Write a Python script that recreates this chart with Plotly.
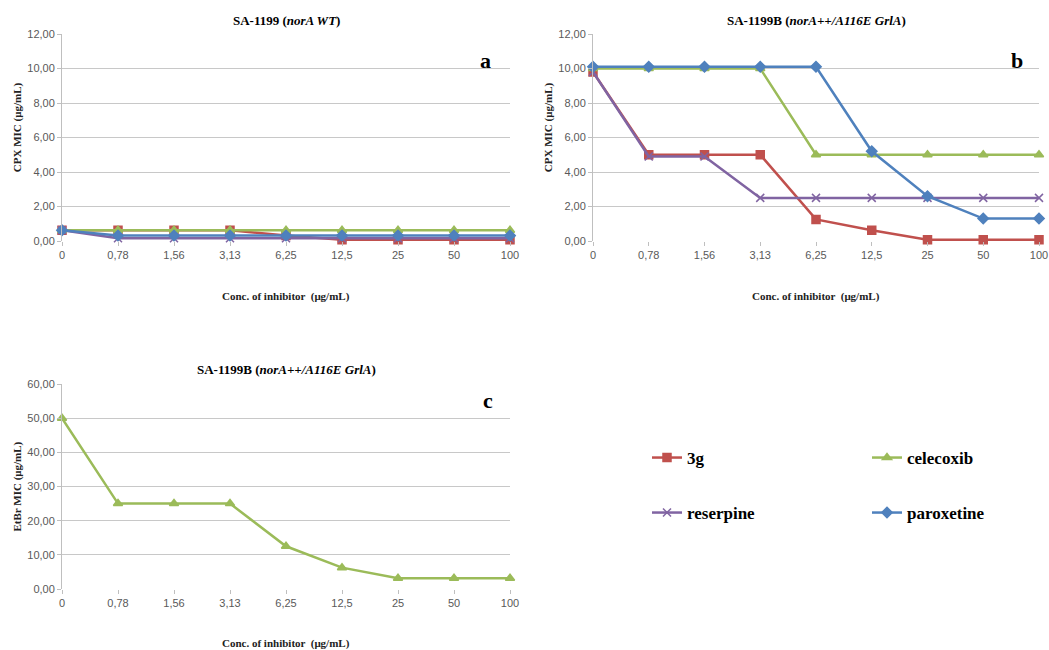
import plotly.graph_objects as go

conc_labels = ["0", "0,78", "1,56", "3,13", "6,25", "12,5", "25", "50", "100"]
series_names = ["3g", "celecoxib", "reserpine", "paroxetine"]

a_3g = [0.625, 0.625, 0.625, 0.625, 0.3125, 0.078, 0.078, 0.078, 0.078]
a_celecoxib = [0.625, 0.625, 0.625, 0.625, 0.625, 0.625, 0.625, 0.625, 0.625]
a_reserpine = [0.625, 0.156, 0.156, 0.156, 0.156, 0.156, 0.156, 0.156, 0.156]
a_paroxetine = [0.625, 0.3125, 0.3125, 0.3125, 0.3125, 0.3125, 0.3125, 0.3125, 0.3125]

b_3g = [9.8, 5.0, 5.0, 5.0, 1.25, 0.625, 0.078, 0.078, 0.078]
b_celecoxib = [10.0, 10.0, 10.0, 10.0, 5.0, 5.0, 5.0, 5.0, 5.0]
b_reserpine = [9.8, 4.9, 4.9, 2.5, 2.5, 2.5, 2.5, 2.5, 2.5]
b_paroxetine = [10.1, 10.1, 10.1, 10.1, 10.1, 5.2, 2.6, 1.3, 1.3]

c_celecoxib = [50, 25, 25, 25, 12.5, 6.25, 3.125, 3.125, 3.125]

cpx_ticks = [0, 2, 4, 6, 8, 10, 12]
cpx_ticktext = ["0,00", "2,00", "4,00", "6,00", "8,00", "10,00", "12,00"]
etbr_ticks = [0, 10, 20, 30, 40, 50, 60]
etbr_ticktext = ["0,00", "10,00", "20,00", "30,00", "40,00", "50,00", "60,00"]

colors = {"3g": "#C0504D", "celecoxib": "#9BBB59", "reserpine": "#8064A2", "paroxetine": "#4F81BD"}
symbols = {"3g": "square", "celecoxib": "triangle-up", "reserpine": "x-thin", "paroxetine": "diamond"}
sizes = {"3g": 8, "celecoxib": 8, "reserpine": 8, "paroxetine": 8}
legend_of = {"3g": "legend", "celecoxib": "legend", "reserpine": "legend2", "paroxetine": "legend2"}

xs = list(range(len(conc_labels)))

W, H = 1049, 650


def px(x):
    return x / W


def py(y):
    return 1 - y / H


fig = go.Figure()


def add(name, y, xa, ya, show):
    c = colors[name]
    fig.add_trace(go.Scatter(
        x=xs, y=y, name=name, mode="lines+markers",
        xaxis=xa, yaxis=ya, cliponaxis=False,
        line=dict(color=c, width=2.5),
        marker=dict(symbol=symbols[name], size=sizes[name], color=c,
                    line=dict(color=c, width=1.5)),
        showlegend=show, legend=legend_of[name],
    ))


for n, y in zip(series_names, [a_3g, a_celecoxib, a_reserpine, a_paroxetine]):
    add(n, y, "x", "y", False)
for n, y in zip(series_names, [b_3g, b_celecoxib, b_reserpine, b_paroxetine]):
    add(n, y, "x2", "y2", True)
add("celecoxib", c_celecoxib, "x3", "y3", False)

tickfont = dict(family="Liberation Sans", size=11, color="#595959")
grid = "#C8C8C8"


def xax(left, right):
    return dict(domain=[px(left), px(right)], range=[0, len(conc_labels) - 1],
                tickvals=xs, ticktext=conc_labels, tickfont=tickfont, automargin=False,
                ticklabeloverflow="allow",
                showgrid=False, zeroline=False, showline=False,
                ticks="outside", ticklen=4, tickcolor="#BFBFBF", fixedrange=True)


def yax(bottom, top, rng, tv, tt, anchor):
    return dict(domain=[py(bottom), py(top)], range=rng, tickvals=tv, ticktext=tt,
                tickfont=tickfont, showgrid=True, gridcolor=grid, gridwidth=1, automargin=False,
                ticklabeloverflow="allow",
                zeroline=False, showline=True, linecolor="#BFBFBF", linewidth=1,
                ticks="outside", ticklen=4, tickcolor="#BFBFBF", anchor=anchor)


legfont = dict(family="Liberation Serif", size=17, color="black", weight="bold")
fig.update_layout(
    template="none",
    width=W, height=H, margin=dict(l=0, r=0, t=0, b=0, autoexpand=False),
    paper_bgcolor="white", plot_bgcolor="white",
    xaxis=xax(62, 510) | dict(anchor="y"),
    yaxis=yax(241, 34, [0, 12], cpx_ticks, cpx_ticktext, "x"),
    xaxis2=xax(593, 1039) | dict(anchor="y2"),
    yaxis2=yax(241, 34, [0, 12], cpx_ticks, cpx_ticktext, "x2"),
    xaxis3=xax(62, 510) | dict(anchor="y3"),
    yaxis3=yax(589, 384, [0, 60], etbr_ticks, etbr_ticktext, "x3"),
    legend=dict(orientation="h", x=px(647), y=py(440), xanchor="left", yanchor="top",
                entrywidth=175, font=legfont, bgcolor="rgba(0,0,0,0)", itemclick=False),
    legend2=dict(orientation="h", x=px(647), y=py(495), xanchor="left", yanchor="top",
                 entrywidth=175, font=legfont, bgcolor="rgba(0,0,0,0)", itemclick=False),
)

serif = "Liberation Serif"
ann = []
tfont = dict(family=serif, size=13, color="black")
ann.append(dict(text="<b>SA-1199 (<i>norA WT</i>)</b>", xref="x domain", yref="paper",
                x=0.5, y=py(20), yanchor="middle", showarrow=False, font=tfont))
ann.append(dict(text="<b>SA-1199B (<i>norA++/A116E GrlA</i>)</b>", xref="x2 domain", yref="paper",
                x=0.5, y=py(20), yanchor="middle", showarrow=False, font=tfont))
ann.append(dict(text="<b>SA-1199B (<i>norA++/A116E GrlA</i>)</b>", xref="x3 domain", yref="paper",
                x=0.5, y=py(369), yanchor="middle", showarrow=False, font=tfont))
for xx, yy, t in [(485, 61, "a"), (1017, 60, "b"), (488, 400, "c")]:
    ann.append(dict(text="<b>%s</b>" % t, xref="paper", yref="paper", x=px(xx), y=py(yy),
                    xanchor="center", yanchor="middle", showarrow=False,
                    font=dict(family=serif, size=22, color="black")))
xt = "<b>Conc. of inhibitor  (μg/mL)</b>"
afont = dict(family=serif, size=11, color="#222222")
for xr, yy in [("x domain", 296), ("x2 domain", 296), ("x3 domain", 643)]:
    ann.append(dict(text=xt, xref=xr, yref="paper", x=0.5, y=py(yy), yanchor="middle",
                    showarrow=False, font=afont))
yt = "<b>CPX MIC (μg/mL)</b>"
ann.append(dict(text=yt, xref="paper", yref="y domain", x=px(17), y=0.55, textangle=-90,
                xanchor="center", yanchor="middle", showarrow=False, font=afont))
ann.append(dict(text=yt, xref="paper", yref="y2 domain", x=px(548), y=0.55, textangle=-90,
                xanchor="center", yanchor="middle", showarrow=False, font=afont))
ann.append(dict(text="<b>EtBr MIC (μg/mL)</b>", xref="paper", yref="y3 domain", x=px(17), y=0.5,
                textangle=-90, xanchor="center", yanchor="middle", showarrow=False, font=afont))
fig.update_layout(annotations=ann)

fig.write_html("out.html", config={"displayModeBar": False},
               post_script="document.body.style.margin='0';document.body.style.overflow='hidden';")
